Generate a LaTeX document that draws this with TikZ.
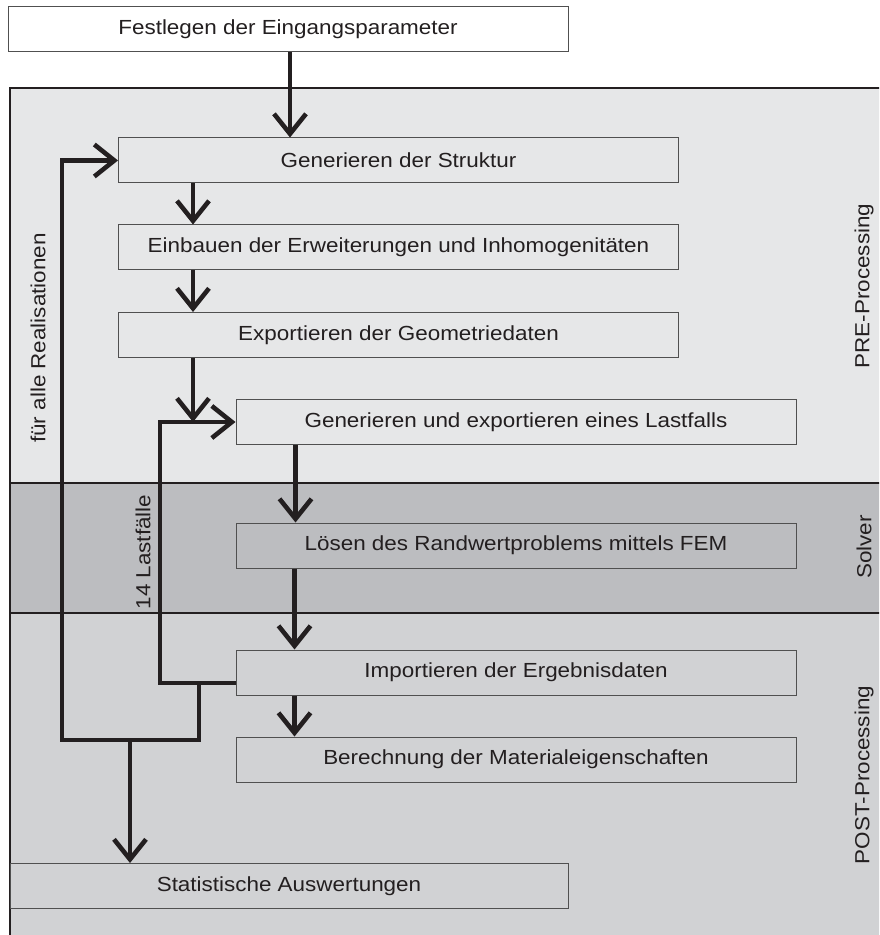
\documentclass[tikz,border=0pt]{standalone}
\usepackage{fontspec}
\setmainfont{Liberation Sans}[FakeStretch=1.1]
\usepackage{xcolor}
\definecolor{inkblack}{HTML}{231F20}
\definecolor{boxline}{HTML}{505050}
\definecolor{prefill}{HTML}{E6E7E8}
\definecolor{solverfill}{HTML}{BCBDC0}
\definecolor{postfill}{HTML}{D1D2D4}
\usepackage{tikz}
\usetikzlibrary{arrows.meta}

\begin{document}
\begin{tikzpicture}[x=0.5pt, y=-0.5pt,
    every node/.style={font=\fontsize{10.2}{12}\selectfont, text=inkblack},
    stepbox/.style={draw=boxline, line width=0.5pt, minimum width=280pt, minimum height=22.5pt, inner sep=0pt},
    flow/.style={draw=inkblack, line width=2.3pt, -{Straight Barb[length=10pt, width=16pt]}},
    panelline/.style={draw=inkblack, line width=1.1pt}]
      \useasboundingbox (0,0) rectangle (879,935);
      \clip (0,0) rectangle (879,935);

      % panels
      \fill[prefill] (10,88) rectangle (890,483);
      \fill[solverfill] (10,483) rectangle (890,613);
      \fill[postfill] (10,613) rectangle (890,945);
      \draw[panelline] (890,88) -- (10,88) -- (10,945);
      \draw[panelline] (10,483) -- (890,483);
      \draw[panelline] (10,613) -- (890,613);

      \node[rotate=90] (pre) at (864,286) {PRE-Processing};
      \node[rotate=90] (solver) at (864,547) {Solver};
      \node[rotate=90] (post) at (864,775) {POST-Processing};

      % steps
      \node[stepbox, fill=white] (fest) at (288,29) {Festlegen der Eingangsparameter};
      \node[stepbox] (gen) at (398.5,160.5) {Generieren der Struktur};
      \node[stepbox] (einb) at (398.5,247.5) {Einbauen der Erweiterungen und Inhomogenitäten};
      \node[stepbox] (exp) at (398.5,335) {Exportieren der Geometriedaten};
      \node[stepbox] (last) at (516,422) {Generieren und exportieren eines Lastfalls};
      \node[stepbox] (loes) at (516,545.5) {Lösen des Randwertproblems mittels FEM};
      \node[stepbox] (imp) at (516,672.5) {Importieren der Ergebnisdaten};
      \node[stepbox] (ber) at (516,759.5) {Berechnung der Materialeigenschaften};
      \node[stepbox, minimum width=279pt] (stat) at (289,886) {Statistische Auswertungen};

      % loops
      \coordinate (merge) at (193,422);
      \coordinate (loopin) at (160,683);
      \coordinate (split) at (199,683);
      \coordinate (joint) at (199,740);
      \coordinate (loopout) at (62,740);
      \coordinate (down) at (130,740);

      \node[rotate=90] (real) at (38,338) {für alle Realisationen};
      \node[rotate=90] (lf) at (143,552) {14 Lastfälle};

      \draw[flow] (fest.south -| 290,0) -- (gen.north -| 290,0);
      \draw[flow] ([xshift=37.5pt]gen.south west) -- ([xshift=37.5pt]einb.north west);
      \draw[flow] ([xshift=37.5pt]einb.south west) -- ([xshift=37.5pt]exp.north west);
      \draw[flow] (exp.south -| merge) -- (merge);
      \draw[flow] ([xshift=30pt]last.south west) -- ([xshift=30pt]loes.north west);
      \draw[flow] ([xshift=29.5pt]loes.south west) -- ([xshift=29.5pt]imp.north west);
      \draw[flow] ([xshift=29.5pt]imp.south west) -- ([xshift=29.5pt]ber.north west);

      \draw[flow] (imp.west |- split) -- (loopin) |- (last.west);
      \draw[flow] (split) -- (joint) -- (loopout) |- (gen.west);
      \draw[flow] (down) -- (stat.north -| down);
    \end{tikzpicture}
\end{document}
